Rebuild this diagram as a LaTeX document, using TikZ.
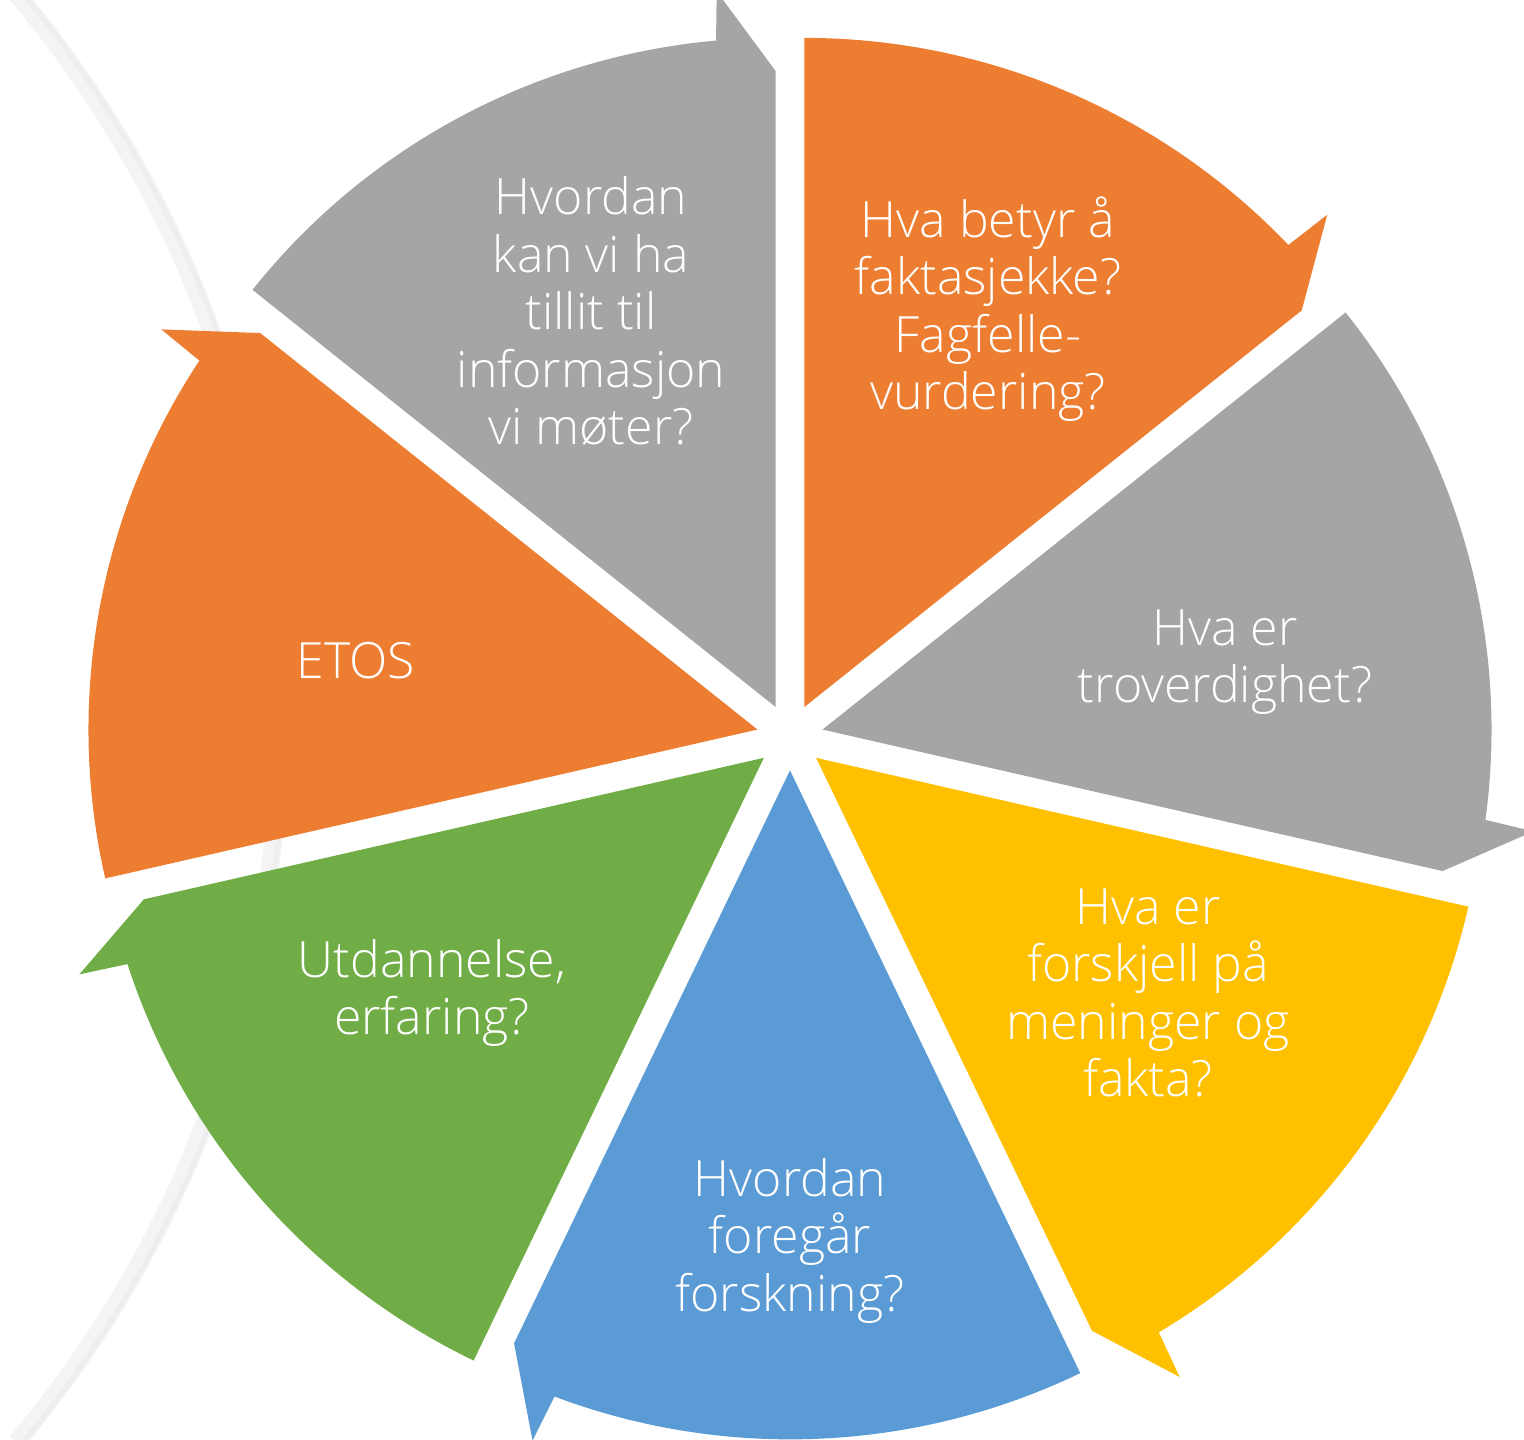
\documentclass[tikz,border=0pt]{standalone}
\usepackage{fontspec}
\setmainfont{Open Sans}[UprightFont=* Light]
\usetikzlibrary{calc}
\definecolor{cOr}{HTML}{ED7D31}
\definecolor{cGr}{HTML}{A5A5A5}
\definecolor{cYe}{HTML}{FFC000}
\definecolor{cBl}{HTML}{5B9BD5}
\definecolor{cGn}{HTML}{70AD47}
\definecolor{cShade}{HTML}{F4F4F4}
\definecolor{cShadeB}{HTML}{EEEEEE}
\begin{document}
\begin{tikzpicture}[x=1pt,y=1pt,
  lbl/.style={text=white, align=center, inner sep=0pt,
    font=\fontsize{50}{57.5}\selectfont}]
\useasboundingbox (0,0) rectangle (1524,1440);
\clip (0,0) rectangle (1524,1440);
\coordinate (C) at (790,703);
\coordinate (S) at (-847,722);
\draw[line width=18pt, cShade] ($(S)+(-40:1127pt)$) arc[start angle=-40, end angle=40, radius=1127pt];
\draw[line width=5pt, cShadeB] ($(S)+(-40:1132pt)$) arc[start angle=-40, end angle=40, radius=1132pt];
\def\R{669}\def\Rb{718}\def\Rt{636}\def\aw{5.1}\def\dd{33.4}
\foreach \i/\col/\nm in {0/cOr/w1,1/cGr/w2,2/cYe/w3,3/cBl/w4,4/cGn/w5,5/cOr/w6,6/cGr/w7}{
  \pgfmathsetmacro\s{90-\i*360/7}
  \pgfmathsetmacro\e{\s-360/7}
  \pgfmathsetmacro\b{\s-180/7}
  \pgfmathsetmacro\ae{\e+\aw}
  \pgfmathsetmacro\ab{\e+\aw-0.4}
  \coordinate (\nm) at ($(C)+(\b:\dd pt)$);
  \fill[\col] (\nm) -- ++(\s:\R pt) arc[start angle=\s, end angle=\ae, radius=\R pt]
     -- ($(\nm)+(\ab:\Rb pt)$) -- ($(\nm)+(\e:\Rt pt)$) -- cycle;
}
\node[lbl] (t1) at (988,1131) {Hva betyr å\\faktasjekke?\\Fagfelle-\\vurdering?};
\node[lbl] (t2) at (1225,778) {Hva er\\troverdighet?};
\node[lbl] (t3) at (1148,447) {Hva er\\forskjell på\\meninger og\\fakta?};
\node[lbl] (t4) at (790,199) {Hvordan\\foregår\\forskning?};
\node[lbl] (t5) at (432,447) {Utdannelse,\\erfaring?};
\node[lbl] (t6) at (356,779) {ETOS};
\node[lbl] (t7) at (591,1129) {Hvordan\\kan vi ha\\tillit til\\informasjon\\vi møter?};
\end{tikzpicture}
\end{document}
